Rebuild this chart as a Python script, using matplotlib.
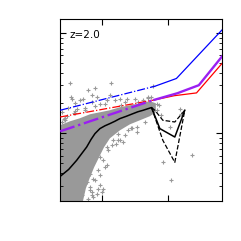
import numpy as np
from matplotlib import pyplot as plt

# log10 values
# model lines (dash-dot part where the sample is, solid beyond)
blue_x = np.array([7.74, 10.62, 11.27, 12.67])
blue_y = np.array([0.23, 0.47, 0.547, 1.037])
red_x = np.array([7.74, 10.555, 11.2, 11.88, 12.67])
red_y = np.array([0.163, 0.33, 0.375, 0.403, 0.703])
purple_x = np.array([7.74, 10.555, 11.3, 11.95, 12.67])
purple_y = np.array([0.02, 0.33, 0.40, 0.48, 0.773])
split_x = 10.6  # where the dash-dot turns into solid

# median and percentiles of the sample
med_x = np.array([7.74, 8.0, 8.24, 8.4, 8.545, 8.68, 8.797, 8.948, 9.1, 9.252, 9.4, 9.555,
                  9.75, 9.958, 10.1, 10.261, 10.4, 10.515, 10.767, 11.221, 11.524])
med_y = np.array([-0.43, -0.36, -0.27, -0.2, -0.137, -0.06, -0.003, 0.047, 0.075, 0.097, 0.12,
                  0.147, 0.17, 0.197, 0.215, 0.23, 0.245, 0.257, 0.047, -0.037, 0.23])
p84_x = np.array([10.515, 10.615, 10.858, 11.221, 11.524])
p84_y = np.array([0.257, 0.23, 0.13, 0.113, 0.23])
p16_x = np.array([10.515, 10.858, 11.221, 11.524])
p16_y = np.array([0.257, -0.07, -0.29, 0.23])

# dense part of the sample (outline)
dense_x = np.array([7.736, 8.04, 8.34, 8.645, 8.95, 9.25, 9.555, 9.86, 10.16, 10.46, 10.645,
                    10.645, 10.46, 10.16, 9.86, 9.555, 9.25, 9.07, 8.92, 8.77, 8.645, 8.52,
                    8.43, 7.736])
dense_y = np.array([0.08, 0.12, 0.15, 0.19, 0.21, 0.23, 0.26, 0.28, 0.30, 0.32, 0.30,
                    0.21, 0.17, 0.13, 0.09, 0.03, -0.05, -0.14, -0.24, -0.34, -0.44, -0.55,
                    -0.68, -0.68])

# individual points outside the dense part
pts_x = np.array([8.04, 8.80, 8.59, 8.70, 8.85, 8.09, 8.34, 8.44, 8.70, 8.95, 9.15, 9.40,
                  9.55, 9.76, 10.56, 10.26, 10.67, 10.67, 10.06, 10.06, 9.65, 9.45, 10.87,
                  11.12, 11.73, 11.37, 11.42, 11.07, 10.36, 9.15, 8.95, 9.05, 8.85, 8.65,
                  8.75, 8.49, 8.34, 8.55, 8.24, 8.39, 8.95, 9.15, 9.35, 9.10, 9.50, 9.81,
                  9.55, 9.10, 8.80, 8.65, 8.75, 8.55, 8.90, 8.70, 9.00, 8.34, 8.65, 8.06,
                  8.19, 9.27, 7.85, 7.95, 8.15, 8.25, 7.80, 7.90, 8.20, 9.95, 10.1, 10.4,
                  10.5, 10.75, 10.8, 9.9, 8.5, 9.6,
                  9.19, 9.31, 9.49, 9.71, 9.92, 10.31, 9.04, 8.89, 8.80, 8.70, 8.58, 8.95,
                  7.89, 8.19, 8.50, 8.80, 9.10, 9.71, 10.01, 10.40, 7.80, 7.98, 9.25])
pts_y = np.array([0.503, 0.45, 0.43, 0.38, 0.363, 0.343, 0.33, 0.347, 0.313, 0.297, 0.33,
                  0.33, 0.347, 0.347, 0.47, 0.33, 0.297, 0.23, 0.063, 0.013, -0.087, -0.103,
                  -0.287, -0.47, -0.22, 0.247, 0.197, 0.063, 0.197, -0.32, -0.52, -0.553,
                  -0.603, -0.57, -0.637, -0.487, -0.537, -0.403, -0.437, -0.62, -0.237,
                  -0.137, -0.07, -0.02, -0.003, 0.03, -0.07, -0.337, -0.237, -0.403, -0.453,
                  -0.487, -0.553, -0.587, -0.587, -0.62, -0.537, 0.363, 0.30, 0.50, 0.14,
                  0.17, 0.20, 0.24, 0.11, 0.13, 0.22, 0.27, 0.31, 0.35, 0.36, 0.28, 0.18,
                  0.05, 0.25, 0.28,
                  -0.17, -0.12, -0.07, -0.02, 0.05, 0.11, -0.27, -0.37, -0.47, -0.62, -0.66,
                  -0.42, 0.15, 0.20, 0.23, 0.27, 0.29, 0.31, 0.34, 0.36, 0.21, 0.25, 0.38])

gray = '#999999'

fig = plt.figure(figsize=(2.41, 2.41), dpi=100)
ax = fig.add_axes([0.249, 0.164, 0.674, 0.757])

ax.fill(10**dense_x, 10**dense_y, color=gray, lw=0, zorder=1)
ax.plot(10**pts_x, 10**pts_y, '+', color=gray, ms=3.5, mew=0.8, zorder=1)

for lx, ly, c, lw in [(blue_x, blue_y, 'b', 0.9), (red_x, red_y, 'r', 0.9),
                      (purple_x, purple_y, '#9b1ff2', 1.7)]:
    xx = np.concatenate([lx[lx < split_x], [split_x]])
    yy = np.interp(xx, lx, ly)
    ax.plot(10**xx, 10**yy, '-.', color=c, lw=lw, zorder=3)
    xs = np.concatenate([[split_x], lx[lx > split_x]])
    ax.plot(10**xs, 10**np.interp(xs, lx, ly), '-', color=c, lw=lw, zorder=3)

ax.plot(10**med_x, 10**med_y, 'k-', lw=1.1, zorder=4)
ax.plot(10**p84_x, 10**p84_y, 'k--', lw=0.9, zorder=4)
ax.plot(10**p16_x, 10**p16_y, 'k--', lw=0.9, zorder=4)

ax.set_xscale('log')
ax.set_yscale('log')
ax.set_xlim(10**7.736, 10**12.667)
ax.set_ylim(10**-0.68, 10**1.14)
ax.tick_params(which='both', direction='in', top=True, right=True,
               labelbottom=False, labelleft=False)
ax.tick_params(which='major', length=4, width=0.8)
ax.tick_params(which='minor', length=2, width=0.6)

ax.text(0.06, 0.94, 'z=2.0', transform=ax.transAxes, fontsize=7.5,
        ha='left', va='top')

fig.savefig('out.png', dpi=100)
